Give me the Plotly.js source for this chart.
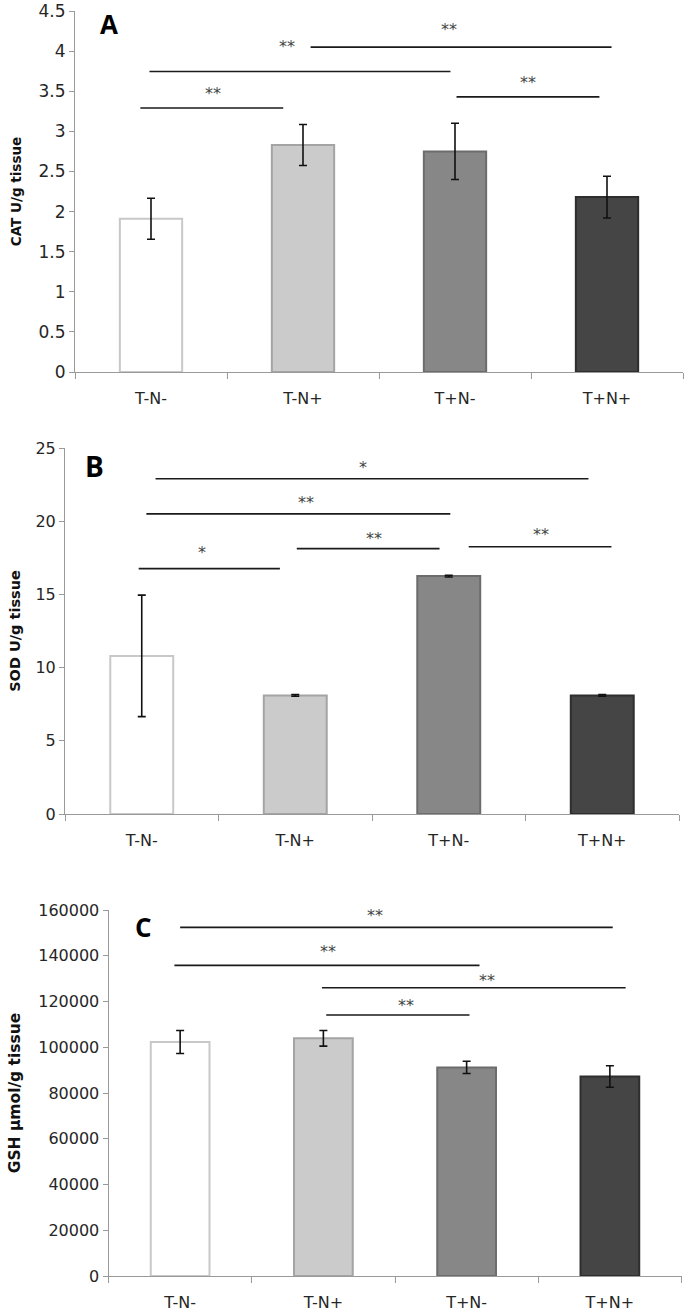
<!DOCTYPE html>
<html>
<head>
<meta charset="utf-8">
<script src="https://cdn.plot.ly/plotly-3.0.1.min.js"></script>
<style>html,body{margin:0;padding:0;background:#fff;}#chart{width:685px;height:1311px;}</style>
</head>
<body>
<div id="chart"></div>
<script>
// ---- data ----
const categories = ['T-N-', 'T-N+', 'T+N-', 'T+N+'];

const catValues = [1.91, 2.83, 2.75, 2.18];
const catErrors = [0.255, 0.255, 0.35, 0.26];

const sodValues = [10.8, 8.1, 16.25, 8.1];
const sodErrors = [4.15, 0.06, 0.06, 0.06];

const gshValues = [102300, 103900, 91200, 87200];
const gshErrors = [5000, 3400, 2700, 4700];

// significance comparisons: [from, to, bar level, star x, star level, label]
const catSig = [
  [-0.07, 0.87, 3.29, 0.41, 3.51, '**'],
  [-0.01, 1.97, 3.745, 0.895, 4.10, '**'],
  [1.05, 3.03, 4.05, 1.96, 4.31, '**'],
  [2.01, 2.95, 3.43, 2.48, 3.65, '**']
];
const sodSig = [
  [-0.02, 0.90, 16.76, 0.39, 18.1, '*'],
  [1.01, 1.94, 18.13, 1.51, 19.0, '**'],
  [2.13, 3.06, 18.25, 2.60, 19.3, '**'],
  [0.03, 2.01, 20.5, 1.07, 21.5, '**'],
  [0.09, 2.91, 22.9, 1.44, 23.9, '*']
];
const gshSig = [
  [0.0, 3.02, 152400, 1.36, 158800, '**'],
  [-0.04, 2.09, 135800, 1.03, 143000, '**'],
  [0.99, 3.11, 126000, 2.14, 130400, '**'],
  [1.02, 2.02, 114100, 1.58, 119600, '**']
];

const barColors = ['#ffffff', '#cbcbcb', '#878787', '#454545'];
const barEdges = ['#c8c8c8', '#a4a4a4', '#6c6c6c', '#2e2e2e'];

// ---- build ----
const W = 685, H = 1311;
const panels = [
  {vals: catValues, errs: catErrors, sig: catSig, xa: 'x', ya: 'y', box: [75, 683, 11, 372], range: [0, 4.5], dtick: 0.5,
   title: 'CAT U/g tissue', titleSize: 13.5, standoff: 13, tickSize: 17, letter: 'A', letterPos: [109, 24], letterSize: 26},
  {vals: sodValues, errs: sodErrors, sig: sodSig, xa: 'x2', ya: 'y2', box: [65, 679, 448, 814], range: [0, 25], dtick: 5,
   title: 'SOD U/g tissue', titleSize: 14.5, standoff: 11, tickSize: 16, letter: 'B', letterPos: [94, 466], letterSize: 28},
  {vals: gshValues, errs: gshErrors, sig: gshSig, xa: 'x3', ya: 'y3', box: [108.5, 681.5, 910, 1276], range: [0, 160000], dtick: 20000,
   title: 'GSH μmol/g tissue', titleSize: 15.5, standoff: 13, tickSize: 16, letter: 'C', letterPos: [143, 927], letterSize: 26}
];

const catFont = {family: 'DejaVu Sans', size: 16, color: '#262626'};
const data = [];
const layout = {
  width: W, height: H,
  margin: {l: 0, r: 0, t: 0, b: 0},
  paper_bgcolor: '#fff', plot_bgcolor: '#fff',
  showlegend: false,
  shapes: [], annotations: []
};

panels.forEach((p, i) => {
  const sfx = i === 0 ? '' : String(i + 1);
  data.push({
    type: 'bar',
    x: categories,
    y: p.vals,
    xaxis: p.xa, yaxis: p.ya,
    width: 0.41,
    marker: {color: barColors, line: {color: barEdges, width: 2}},
    error_y: {type: 'data', array: p.errs, visible: true, color: '#111', thickness: 1.6, width: 4},
    hoverinfo: 'x+y'
  });
  const [x0, x1, y0, y1] = p.box;
  layout['xaxis' + sfx] = {
    domain: [x0 / W, x1 / W],
    anchor: p.ya,
    type: 'category',
    categoryorder: 'array', categoryarray: categories,
    range: [-0.5, 3.5],
    showline: true, linecolor: '#9a9a9a', linewidth: 1,
    ticks: 'outside', tickson: 'boundaries', ticklen: 6, tickcolor: '#9a9a9a',
    tickfont: catFont, ticklabelstandoff: 12,
    showgrid: false, zeroline: false, fixedrange: true
  };
  layout['yaxis' + sfx] = {
    domain: [1 - y1 / H, 1 - y0 / H],
    anchor: p.xa,
    range: p.range, dtick: p.dtick, tick0: 0,
    tickformat: 'd', exponentformat: 'none', separatethousands: false,
    showline: true, linecolor: '#9a9a9a', linewidth: 1,
    ticks: 'outside', ticklen: 5, tickcolor: '#9a9a9a',
    tickfont: {family: 'DejaVu Sans', size: p.tickSize, color: '#262626'},
    showgrid: false, zeroline: false, fixedrange: true,
    title: {text: p.title, font: {family: 'DejaVu Sans', size: p.titleSize, color: '#111', weight: 'bold'}, standoff: p.standoff}
  };
  if (i === 0) { layout.yaxis.tickformat = ''; layout.yaxis.ticklabeloverflow = 'allow'; }
  p.sig.forEach(s => {
    layout.shapes.push({type: 'line', xref: p.xa, yref: p.ya, x0: s[0], x1: s[1], y0: s[2], y1: s[2],
      line: {color: '#1a1a1a', width: 1.6}});
    layout.annotations.push({xref: p.xa, yref: p.ya, x: s[3], y: s[4], text: s[5], showarrow: false,
      font: {family: 'DejaVu Sans', size: 16, color: '#444'}, xanchor: 'center', yanchor: 'middle', yshift: -3});
  });
  layout.annotations.push({xref: 'paper', yref: 'paper', x: p.letterPos[0] / W, y: 1 - p.letterPos[1] / H,
    text: '<b>' + p.letter + '</b>', showarrow: false, xanchor: 'center', yanchor: 'middle',
    font: {family: 'Open Sans', size: p.letterSize, color: '#000'}});
});

Plotly.newPlot('chart', data, layout, {displayModeBar: false, staticPlot: true});
</script>
</body>
</html>
